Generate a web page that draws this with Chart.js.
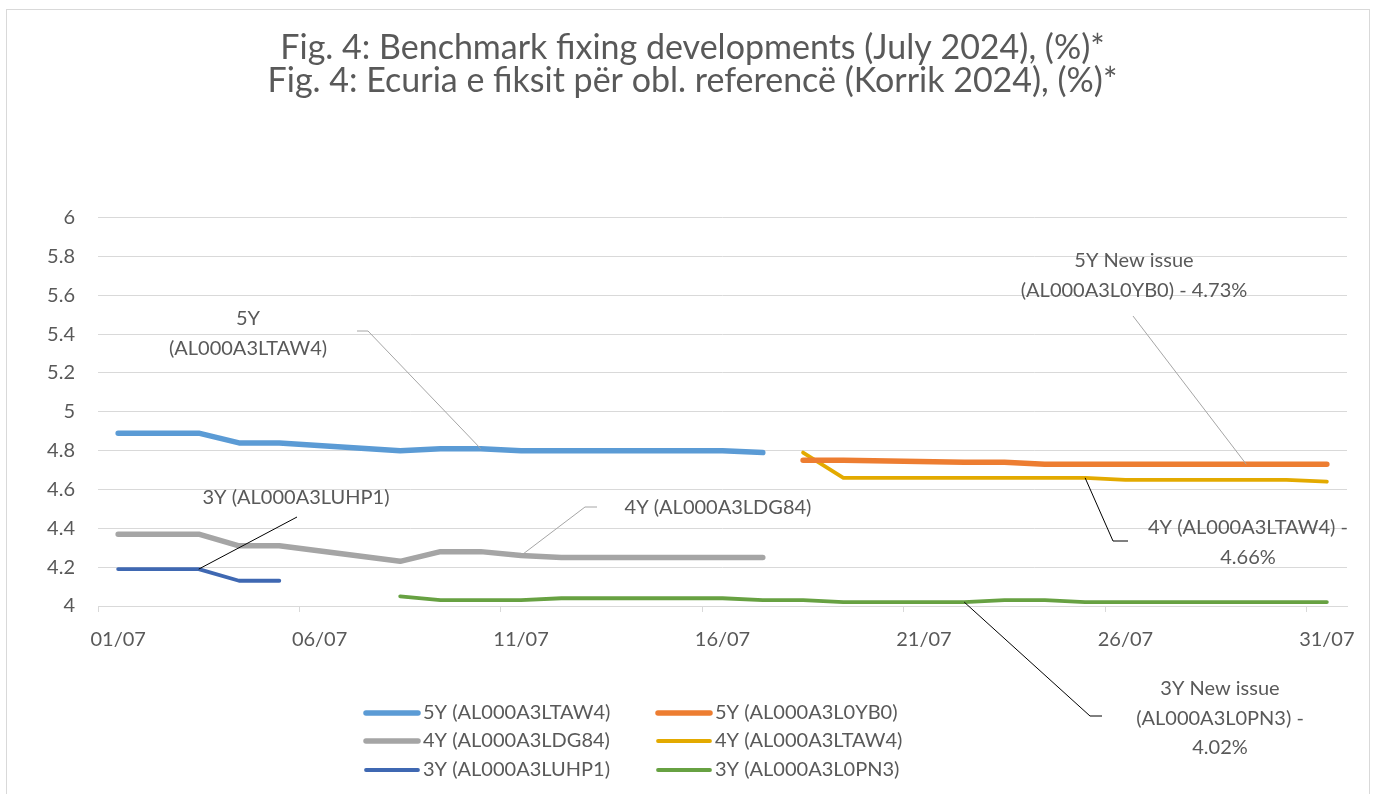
<!DOCTYPE html>
<html>
<head>
<meta charset="utf-8">
<script src="https://cdn.jsdelivr.net/npm/chart.js@4"></script>
<style>
  html, body { margin: 0; padding: 0; background: #fff; }
  #wrap { width: 1376px; height: 794px; }
</style>
</head>
<body>
<div id="wrap"><canvas id="fixChart" width="1376" height="794"></canvas></div>
<script>
const days = ["01/07","02/07","03/07","04/07","05/07","06/07","07/07","08/07","09/07","10/07",
  "11/07","12/07","13/07","14/07","15/07","16/07","17/07","18/07","19/07","20/07",
  "21/07","22/07","23/07","24/07","25/07","26/07","27/07","28/07","29/07","30/07","31/07"];
const _ = null; // weekend / not quoted

const y5_LTAW4 = [4.89,4.89,4.89,4.84,4.84,_,_,4.80,4.81,4.81,4.80,4.80,_,_,4.80,4.80,4.79,_,_,_,_,_,_,_,_,_,_,_,_,_,_];
const y5_L0YB0 = [_,_,_,_,_,_,_,_,_,_,_,_,_,_,_,_,_,4.75,4.75,_,_,4.74,4.74,4.73,4.73,4.73,_,_,4.73,4.73,4.73];
const y4_LDG84 = [4.37,4.37,4.37,4.31,4.31,_,_,4.23,4.28,4.28,4.26,4.25,_,_,4.25,4.25,4.25,_,_,_,_,_,_,_,_,_,_,_,_,_,_];
const y4_LTAW4 = [_,_,_,_,_,_,_,_,_,_,_,_,_,_,_,_,_,4.79,4.66,_,_,4.66,4.66,4.66,4.66,4.65,_,_,4.65,4.65,4.64];
const y3_LUHP1 = [4.19,4.19,4.19,4.13,4.13,_,_,_,_,_,_,_,_,_,_,_,_,_,_,_,_,_,_,_,_,_,_,_,_,_,_];
const y3_L0PN3 = [_,_,_,_,_,_,_,4.05,4.03,4.03,4.03,4.04,_,_,4.04,4.04,4.03,4.03,4.02,_,_,4.02,4.03,4.03,4.02,4.02,_,_,4.02,4.02,4.02];

const seriesNames = ["5Y (AL000A3LTAW4)","5Y (AL000A3L0YB0)","4Y (AL000A3LDG84)",
  "4Y (AL000A3LTAW4)","3Y (AL000A3LUHP1)","3Y (AL000A3L0PN3)"];
const seriesColors = ["#5B9BD5","#ED7D31","#A5A5A5","#E3AA00","#3F68B2","#67A142"];
const seriesWidths = [5.5, 5.5, 5.5, 3.8, 3.8, 3.8];

const yTicks = [4, 4.2, 4.4, 4.6, 4.8, 5, 5.2, 5.4, 5.6, 5.8, 6];

const TXT = "#595959";
const FONT = "Lato";

// data labels with leader lines (Excel style); ds/idx pick the point they point to
const notes = [
  { text: ["5Y", "(AL000A3LTAW4)"], x: 248, y: 319, ds: 0, idx: 9, path: [[357,331],[368,331]], line: "#A6A6A6" },
  { text: ["3Y (AL000A3LUHP1)"], x: 296, y: 498, ds: 4, idx: 2, path: [[297,517]], line: "#000" },
  { text: ["4Y (AL000A3LDG84)"], x: 718, y: 508, ds: 2, idx: 10, path: [[597,507],[585,507]], line: "#A6A6A6" },
  { text: ["5Y New issue", "(AL000A3L0YB0) - 4.73%"], x: 1134, y: 261, ds: 1, idx: 28, path: [[1133,316]], line: "#A6A6A6" },
  { text: ["4Y (AL000A3LTAW4) -", "4.66%"], x: 1248, y: 528, ds: 3, idx: 24, path: [[1128,541],[1113,541]], line: "#000" },
  { text: ["3Y New issue", "(AL000A3L0PN3) -", "4.02%"], x: 1220, y: 689, ds: 5, idx: 21, path: [[1102,716],[1090,716]], line: "#000" }
];

const frame = {
  id: "frame",
  beforeDraw(chart) {
    const ctx = chart.ctx;
    ctx.save();
    ctx.fillStyle = "#fff";
    ctx.fillRect(0, 0, chart.width, chart.height);
    ctx.strokeStyle = "#D9D9D9";
    ctx.lineWidth = 1;
    ctx.strokeRect(6.5, 9.5, 1363, 800);
    ctx.restore();
  }
};

const labelsAndLegend = {
  id: "labelsAndLegend",
  afterDatasetsDraw(chart) {
    const ctx = chart.ctx;
    const xs = chart.scales.x, ys = chart.scales.y;
    ctx.save();
    ctx.font = "20px " + FONT;
    ctx.fillStyle = TXT;
    ctx.textAlign = "center";
    ctx.textBaseline = "middle";
    notes.forEach(n => {
      const v = chart.data.datasets[n.ds].data[n.idx];
      const px = xs.getPixelForValue(n.idx), py = ys.getPixelForValue(v);
      ctx.strokeStyle = n.line;
      ctx.lineWidth = 1;
      ctx.beginPath();
      ctx.moveTo(n.path[0][0], n.path[0][1]);
      n.path.slice(1).forEach(p => ctx.lineTo(p[0], p[1]));
      ctx.lineTo(px, py);
      ctx.stroke();
      n.text.forEach((t, i) => ctx.fillText(t, n.x, n.y + i * 29.5));
    });

    // legend, 2 columns x 3 rows
    const cols = [363, 655], rows = [713, 741, 770];
    ctx.textAlign = "left";
    chart.data.datasets.forEach((d, i) => {
      const cx = cols[i % 2], cy = rows[Math.floor(i / 2)];
      ctx.strokeStyle = d.borderColor;
      ctx.lineWidth = d.borderWidth;
      ctx.lineCap = "round";
      ctx.beginPath();
      ctx.moveTo(cx + 3, cy);
      ctx.lineTo(cx + 55, cy);
      ctx.stroke();
      ctx.fillText(d.label, cx + 60, cy);
    });
    ctx.restore();
  }
};

const sets = [y5_LTAW4, y5_L0YB0, y4_LDG84, y4_LTAW4, y3_LUHP1, y3_L0PN3].map((arr, i) => ({
  label: seriesNames[i],
  data: arr,
  borderColor: seriesColors[i],
  backgroundColor: seriesColors[i],
  borderWidth: seriesWidths[i],
  pointRadius: 0,
  pointHoverRadius: 0,
  tension: 0,
  spanGaps: true,
  borderCapStyle: "round",
  borderJoinStyle: "round"
}));

new Chart(document.getElementById("fixChart"), {
  type: "line",
  data: { labels: days, datasets: sets },
  plugins: [frame, labelsAndLegend],
  options: {
    responsive: false,
    animation: false,
    layout: { padding: { left: 38, right: 29, top: 0, bottom: 126 } },
    plugins: {
      legend: { display: false },
      tooltip: { enabled: false },
      title: {
        display: true,
        text: ["Fig. 4: Benchmark fixing developments (July 2024), (%)*",
               "Fig. 4: Ecuria e fiksit për obl. referencë (Korrik 2024), (%)*"],
        color: TXT,
        font: { family: FONT, size: 34, weight: "normal", lineHeight: 0.98 },
        padding: { top: 31, bottom: 120 }
      }
    },
    scales: {
      x: {
        offset: true,
        grid: {
          offset: true,
          drawOnChartArea: false,
          tickLength: 6,
          color: c => (c.index % 5 === 0 ? "#D9D9D9" : "rgba(0,0,0,0)")
        },
        border: { color: "#D9D9D9", width: 1 },
        ticks: {
          autoSkip: false,
          maxRotation: 0,
          padding: 16,
          color: TXT,
          font: { family: FONT, size: 20 },
          callback: (v, i) => (i % 5 === 0 ? days[i] : "")
        }
      },
      y: {
        min: yTicks[0],
        max: yTicks[yTicks.length - 1],
        afterFit: s => { s.width = 60; },
        afterBuildTicks: s => { s.ticks = yTicks.map(v => ({ value: v })); },
        grid: { color: "#D9D9D9", drawTicks: false },
        border: { display: false },
        ticks: {
          padding: 23,
          color: TXT,
          font: { family: FONT, size: 20 },
          callback: v => String(Math.round(v * 10) / 10)
        }
      }
    }
  }
});
</script>
</body>
</html>
